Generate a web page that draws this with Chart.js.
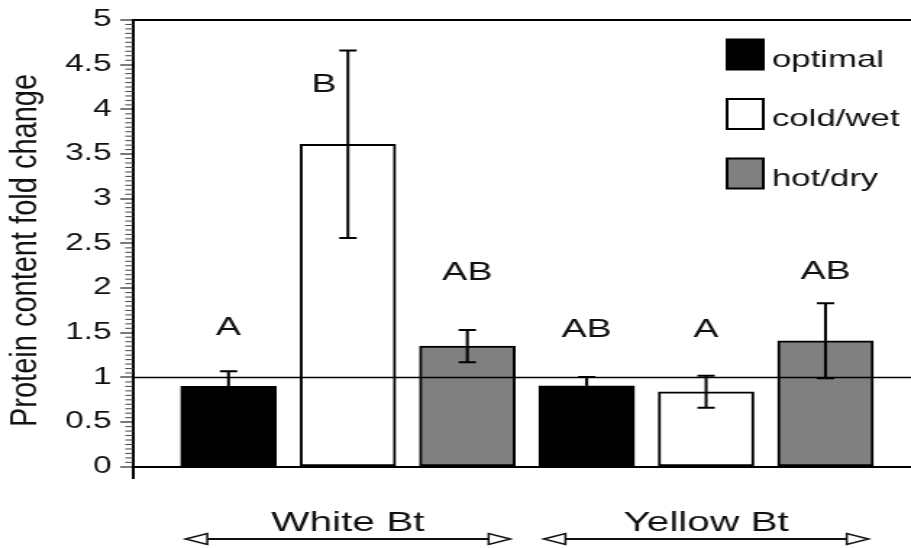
<!DOCTYPE html>
<html>
<head>
<meta charset="utf-8">
<script src="https://cdn.jsdelivr.net/npm/chart.js@4.4.0/dist/chart.umd.min.js"></script>
<style>
  html, body { margin: 0; padding: 0; background: #fff; overflow: hidden; }
  /* the reference figure is stretched sideways, so the chart is drawn narrow and widened */
  #wrap { width: 629px; height: 548px; transform: scaleX(1.4483); transform-origin: 0 0; }
</style>
</head>
<body>
<div id="wrap"><canvas id="chart" width="629" height="548"></canvas></div>
<script>
// series and groups
var seriesNames = ['optimal', 'cold/wet', 'hot/dry'];
var groupNames = ['White Bt', 'Yellow Bt'];

// fold change per group (White Bt, Yellow Bt)
var optimalValues = [0.90, 0.905];
var coldWetValues = [3.61, 0.84];
var hotDryValues = [1.35, 1.41];

// error bar half-lengths
var optimalErrors = [0.17, 0.10];
var coldWetErrors = [1.05, 0.18];
var hotDryErrors = [0.18, 0.42];

// significance letters, bar order: White optimal, cold, hot, Yellow optimal, cold, hot
var letters = ['A', 'B', 'AB', 'AB', 'A', 'AB'];
var letterHeights = [1.55, 4.27, 2.17, 1.53, 1.53, 2.18];
var letterShift = [0, -0.2, 0, 0, 0, 0];

var yTicks = [0, 0.5, 1, 1.5, 2, 2.5, 3, 3.5, 4, 4.5, 5];
var yTitle = 'Protein content fold change';

var FONT = "'Liberation Sans', Arial, Helvetica, sans-serif";
var INK = '#111';
var fills = ['#000000', '#ffffff', '#808080'];
var values = [optimalValues, coldWetValues, hotDryValues];
var errors = [optimalErrors, coldWetErrors, hotDryErrors];

var datasets = seriesNames.map(function(name, s) {
    return {
        label: name,
        data: groupNames.map(function(g, gi) {
            return { x: gi * seriesNames.length + s, y: values[s][gi], err: errors[s][gi] };
        }),
        backgroundColor: fills[s],
        borderColor: '#000',
        borderWidth: 2,
        borderSkipped: false,
        barThickness: 66,
        grouped: false
    };
});

// y title, minor ticks, reference line, error bars, letters, legend, group arrows
var extras = {
    id: 'extras',
    afterDatasetsDraw: function(chart) {
        var ctx = chart.ctx;
        var xs = chart.scales.x;
        var ys = chart.scales.y;
        var area = chart.chartArea;
        ctx.save();

        // reference line at 1
        ctx.strokeStyle = '#000';
        ctx.lineWidth = 1.5;
        var y1 = ys.getPixelForValue(1);
        ctx.beginPath();
        ctx.moveTo(area.left, y1);
        ctx.lineTo(area.right, y1);
        ctx.stroke();

        // minor ticks every 0.05
        ctx.lineWidth = 1;
        ctx.strokeStyle = '#444';
        for (var i = 0; i <= 100; i++) {
            if (i % 10 === 0) continue;
            var py = ys.getPixelForValue(i / 20);
            ctx.beginPath();
            ctx.moveTo(area.left - 5.5, py);
            ctx.lineTo(area.left, py);
            ctx.stroke();
        }

        // error bars (on black bars only the upper half shows)
        ctx.strokeStyle = '#000';
        ctx.lineWidth = 2;
        chart.data.datasets.forEach(function(ds, di) {
            var meta = chart.getDatasetMeta(di);
            var dark = ds.backgroundColor === '#000000';
            meta.data.forEach(function(bar, j) {
                var p = ds.data[j];
                var top = ys.getPixelForValue(p.y + p.err);
                var bot = dark ? ys.getPixelForValue(p.y) : ys.getPixelForValue(p.y - p.err);
                ctx.beginPath();
                ctx.moveTo(bar.x, top);
                ctx.lineTo(bar.x, bot);
                ctx.moveTo(bar.x - 6, top);
                ctx.lineTo(bar.x + 6, top);
                if (!dark) {
                    ctx.moveTo(bar.x - 6, bot);
                    ctx.lineTo(bar.x + 6, bot);
                }
                ctx.stroke();
            });
        });

        // letters
        ctx.fillStyle = INK;
        ctx.font = '26px ' + FONT;
        ctx.textAlign = 'center';
        ctx.textBaseline = 'middle';
        letters.forEach(function(t, i) {
            ctx.fillText(t, xs.getPixelForValue(i + letterShift[i]), ys.getPixelForValue(letterHeights[i]));
        });

        // legend inside the plot, top right
        ctx.font = '24px ' + FONT;
        ctx.textAlign = 'left';
        ctx.textBaseline = 'alphabetic';
        chart.data.datasets.forEach(function(ds, di) {
            var bx = area.right - 127;
            var by = area.top + 19.5 + di * 59.5;
            ctx.fillStyle = ds.backgroundColor;
            ctx.fillRect(bx, by, 25, 30);
            ctx.strokeStyle = '#000';
            ctx.lineWidth = 2;
            ctx.strokeRect(bx, by, 25, 30);
            ctx.fillStyle = INK;
            ctx.fillText(ds.label, bx + 31, by + 27);
        });

        // group labels with double arrows
        var n = seriesNames.length;
        groupNames.forEach(function(g, gi) {
            var first = gi * n;
            var last = gi * n + n - 1;
            ctx.fillStyle = INK;
            ctx.font = '28px ' + FONT;
            ctx.textAlign = 'center';
            ctx.fillText(g, xs.getPixelForValue((first + last) / 2), 531);

            var xa = xs.getPixelForValue(first - 0.36);
            var xb = xs.getPixelForValue(last + 0.36);
            var ay = 539;
            ctx.strokeStyle = '#111';
            ctx.lineWidth = 2;
            ctx.beginPath();
            ctx.moveTo(xa + 15, ay);
            ctx.lineTo(xb - 15, ay);
            ctx.stroke();
            ctx.fillStyle = '#fff';
            ctx.lineWidth = 1.5;
            [[xa, 1], [xb, -1]].forEach(function(h) {
                ctx.beginPath();
                ctx.moveTo(h[0], ay);
                ctx.lineTo(h[0] + h[1] * 15, ay - 5.5);
                ctx.lineTo(h[0] + h[1] * 15, ay + 5.5);
                ctx.closePath();
                ctx.fill();
                ctx.stroke();
            });
        });

        // y axis title, drawn less stretched than the rest
        ctx.save();
        ctx.translate(18.6, 250.5);
        ctx.scale(0.86, 1);
        ctx.rotate(-Math.PI / 2);
        ctx.fillStyle = INK;
        ctx.font = '29px ' + FONT;
        ctx.textAlign = 'center';
        ctx.textBaseline = 'middle';
        ctx.fillText(yTitle, 0, 0);
        ctx.restore();

        ctx.restore();
    }
};

new Chart(document.getElementById('chart'), {
    type: 'bar',
    data: { datasets: datasets },
    options: {
        responsive: false,
        animation: false,
        layout: { padding: { left: 0, right: 0, top: 20, bottom: 70 } },
        plugins: {
            legend: { display: false },
            tooltip: { enabled: false }
        },
        scales: {
            x: {
                type: 'linear',
                min: -0.798,
                max: 5.716,
                offset: false,
                display: false
            },
            y: {
                min: -0.125,
                max: 5,
                afterBuildTicks: function(scale) {
                    scale.ticks = yTicks.map(function(v) { return { value: v }; });
                },
                afterFit: function(scale) {
                    scale.width = 92;
                },
                ticks: {
                    color: INK,
                    padding: 6,
                    font: { family: FONT, size: 23 },
                    callback: function(v) { return String(v); }
                },
                grid: {
                    drawOnChartArea: true,
                    color: function(c) {
                        var v = c.tick ? c.tick.value : null;
                        return (v === 0 || v === 5) ? '#000' : 'rgba(0,0,0,0)';
                    },
                    lineWidth: 2,
                    tickLength: 9,
                    tickColor: '#222',
                    tickWidth: 1.2
                },
                border: { display: true, color: '#000', width: 2 }
            }
        }
    },
    plugins: [extras]
});
</script>
</body>
</html>
